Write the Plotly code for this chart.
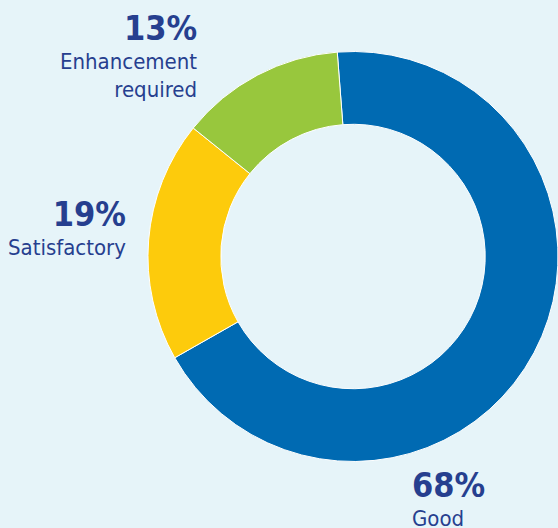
import plotly.graph_objects as go

categories = ["Good", "Satisfactory", "Enhancement required"]
values = [68, 19, 13]
label_lines = [["Good"], ["Satisfactory"], ["Enhancement", "required"]]
colors = ["#006AB2", "#FDCB0C", "#98C73D"]

W, H = 558, 528
BG = "#E6F4F9"
TXT = "#263F8F"
FONT = "DejaVu Sans Condensed, Roboto, sans-serif"

fig = go.Figure(go.Pie(
    labels=categories, values=values, sort=False, direction="clockwise",
    rotation=-4.4, hole=0.645,
    marker=dict(colors=colors, line=dict(color="white", width=1)),
    textinfo="none", hoverinfo="label+percent", showlegend=False,
    domain=dict(x=[0.2652, 1.0], y=[0.1259, 0.9025]),
))

def px(x):
    return x / W

def py(y):
    return 1 - y / H

# label placements (pixel anchors): (x, top-y, anchor/alignment)
placements = {
    "Enhancement required": (199, 6, "right"),
    "Satisfactory": (128, 192, "right"),
    "Good": (410, 463, "left"),
}
annotations = []
for cat, val, lines in zip(categories, values, label_lines):
    x, yt, xa = placements[cat]
    text = f"<span style='font-size:34px'><b>{val}%</b></span><br>" + "<br>".join(lines)
    annotations.append(dict(
        x=px(x), y=py(yt), xref="paper", yref="paper", xanchor=xa, yanchor="top",
        align=xa, text=text, showarrow=False,
        font=dict(family=FONT, size=22, color=TXT)))

fig.update_layout(
    width=W, height=H, margin=dict(l=0, r=0, t=0, b=0),
    paper_bgcolor=BG, plot_bgcolor=BG, annotations=annotations,
)
fig.write_html("out.html")
